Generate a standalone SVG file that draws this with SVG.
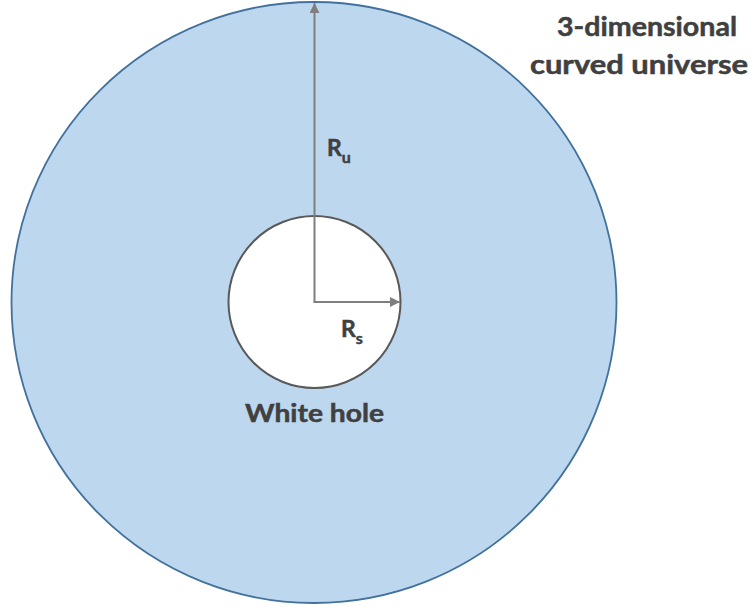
<svg xmlns="http://www.w3.org/2000/svg" width="753" height="610" viewBox="0 0 753 610">
<style>
.lbl{font-family:Lato,"Open Sans","Liberation Sans",sans-serif;font-weight:bold;fill:#404040;stroke:#404040;stroke-width:0.5}
.arr{stroke:#7F7F7F;stroke-width:2;fill:none}
</style>
<defs>
<marker id="ah" markerWidth="10" markerHeight="10" refX="10" refY="5" orient="auto" markerUnits="userSpaceOnUse">
<path d="M0,0 L10,5 L0,10 Z" fill="#7F7F7F"/>
</marker>
</defs>
<rect width="753" height="610" fill="#FFFFFF"/>
<g id="universe">
<ellipse cx="314" cy="302.5" rx="302.5" ry="300.5" fill="#BDD7EE" stroke="#41719C" stroke-width="1.8"/>
</g>
<g id="whitehole">
<circle cx="314.5" cy="302" r="86" fill="#FFFFFF" stroke="#595959" stroke-width="2"/>
</g>
<g id="connectors">
<line class="arr" x1="314.5" y1="302" x2="314.5" y2="3" marker-end="url(#ah)"/>
<line class="arr" x1="313.5" y1="302" x2="400" y2="302" marker-end="url(#ah)"/>
</g>
<g id="labels">
<text class="lbl" x="557" y="36" font-size="27" textLength="180" lengthAdjust="spacingAndGlyphs">3-dimensional</text>
<text class="lbl" x="530" y="74" font-size="27" textLength="218" lengthAdjust="spacingAndGlyphs">curved universe</text>
<text class="lbl" x="245" y="422" font-size="25" textLength="139" lengthAdjust="spacingAndGlyphs">White hole</text>
<text class="lbl" x="327" y="156" font-size="23">R<tspan font-size="16" dy="7">u</tspan></text>
<text class="lbl" x="341" y="337" font-size="23">R<tspan font-size="16" dy="7">s</tspan></text>
</g>
</svg>
